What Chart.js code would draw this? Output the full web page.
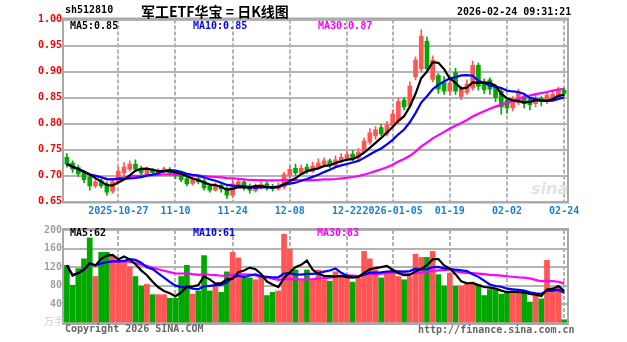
<!DOCTYPE html>
<html>
<head>
<meta charset="utf-8">
<script src="https://cdn.jsdelivr.net/npm/chart.js@4"></script>
<style>
    body { margin: 0; background: #fff; }
    #wrap { position: relative; width: 627px; height: 342px; overflow: hidden; }
    canvas { position: absolute; left: 0; }
    .t { position: absolute; white-space: nowrap; font-family: "DejaVu Sans Mono", monospace; font-weight: bold; font-size: 10px; line-height: 10px; }
</style>
</head>
<body>
<div id="wrap">
    <canvas id="priceChart" width="627" height="220" style="top:0"></canvas>
    <canvas id="volumeChart" width="627" height="120" style="top:222px"></canvas>

    <div class="t" style="left:65px;top:5px;color:#000">sh512810</div>
    <div class="t" style="left:141px;top:3px;font-size:14px;line-height:16px;font-family:'Noto Sans CJK SC';color:#000">军工ETF华宝 = 日K线图</div>
    <div class="t" style="left:457px;top:7px;color:#000">2026-02-24 09:31:21</div>

    <div class="t" style="left:70px;top:21px;color:#000">MA5:0.85</div>
    <div class="t" style="left:193px;top:21px;color:#0000ff">MA10:0.85</div>
    <div class="t" style="left:318px;top:21px;color:#ff00ff">MA30:0.87</div>

    <div class="t" style="left:70px;top:228px;color:#000">MA5:62</div>
    <div class="t" style="left:193px;top:228px;color:#0000ff">MA10:61</div>
    <div class="t" style="left:317px;top:228px;color:#ff00ff">MA30:83</div>

    <div class="t" style="left:44px;top:316px;color:#cfcfcf;font-family:'Noto Sans CJK SC';font-weight:normal">万手</div>
    <div class="t" style="left:531px;top:181px;color:#e2e2e2;font-family:'DejaVu Sans';font-style:italic;font-size:16px;line-height:16px">sina</div>

    <div class="t" style="left:65px;top:324px;color:#666">Copyright 2026 SINA.COM</div>
    <div class="t" style="left:418px;top:325px;color:#666">http://finance.sina.com.cn</div>
</div>

<script>
// 日K数据
const dates = [
    '2025-10-14','2025-10-15','2025-10-16','2025-10-17','2025-10-20','2025-10-21','2025-10-22','2025-10-23','2025-10-24',
    '2025-10-27','2025-10-28','2025-10-29','2025-10-30','2025-10-31',
    '2025-11-03','2025-11-04','2025-11-05','2025-11-06','2025-11-07',
    '2025-11-10','2025-11-11','2025-11-12','2025-11-13','2025-11-14',
    '2025-11-17','2025-11-18','2025-11-19','2025-11-20','2025-11-21',
    '2025-11-24','2025-11-25','2025-11-26','2025-11-27','2025-11-28',
    '2025-12-01','2025-12-02','2025-12-03','2025-12-04','2025-12-05',
    '2025-12-08','2025-12-09','2025-12-10','2025-12-11','2025-12-12',
    '2025-12-15','2025-12-16','2025-12-17','2025-12-18','2025-12-19',
    '2025-12-22','2025-12-23','2025-12-24','2025-12-25','2025-12-26',
    '2025-12-29','2025-12-30','2025-12-31',
    '2026-01-05','2026-01-06','2026-01-07','2026-01-08','2026-01-09',
    '2026-01-12','2026-01-13','2026-01-14','2026-01-15','2026-01-16',
    '2026-01-19','2026-01-20','2026-01-21','2026-01-22','2026-01-23',
    '2026-01-26','2026-01-27','2026-01-28','2026-01-29','2026-01-30',
    '2026-02-02','2026-02-03','2026-02-04','2026-02-05','2026-02-06',
    '2026-02-09','2026-02-10','2026-02-11','2026-02-12','2026-02-13',
    '2026-02-24'
];

const tickDates = ['2025-10-27','2025-11-10','2025-11-24','2025-12-08','2025-12-22','2026-01-05','2026-01-19','2026-02-02','2026-02-24'];
const tickTexts = ['2025-10-27','11-10','11-24','12-08','12-22','2026-01-05','01-19','02-02','02-24'];

const open = [
    .735,.724,.715,.706,.697,.680,.690,.684,.670,.688,
    .705,.712,.722,.713,.703,.711,.704,.707,.712,.705,
    .700,.694,.685,.694,.690,.679,.672,.681,.676,.662,
    .682,.688,.680,.671,.677,.684,.679,.674,.678,.700,
    .714,.705,.716,.708,.716,.722,.728,.720,.728,.733,
    .741,.734,.745,.764,.776,.792,.780,.796,.805,.845,
    .834,.890,.905,.958,.885,.892,.878,.862,.898,.852,
    .860,.868,.912,.880,.884,.870,.862,.845,.830,.840,
    .852,.846,.838,.848,.842,.848,.850,.864
];
const high = [
    .742,.728,.720,.710,.700,.694,.693,.688,.692,.716,
    .725,.728,.730,.718,.716,.714,.713,.716,.715,.708,
    .704,.698,.698,.698,.693,.684,.686,.684,.678,.692,
    .694,.690,.684,.684,.688,.688,.683,.686,.706,.718,
    .722,.720,.722,.726,.732,.734,.732,.738,.742,.746,
    .748,.752,.772,.790,.794,.798,.804,.826,.848,.850,
    .880,.928,.980,.966,.930,.896,.890,.886,.906,.872,
    .884,.920,.916,.886,.888,.874,.866,.848,.852,.866,
    .858,.850,.854,.852,.860,.862,.870,.868
];
const low = [
    .716,.706,.698,.686,.672,.676,.676,.662,.666,.686,
    .700,.708,.708,.700,.700,.700,.700,.703,.700,.694,
    .688,.680,.682,.684,.672,.668,.670,.668,.656,.658,
    .678,.672,.666,.668,.674,.672,.670,.672,.674,.696,
    .700,.702,.704,.706,.712,.716,.714,.716,.724,.728,
    .728,.730,.742,.760,.770,.776,.776,.792,.800,.826,
    .830,.884,.900,.898,.880,.858,.856,.854,.856,.846,
    .856,.864,.864,.858,.856,.842,.818,.820,.824,.836,
    .830,.826,.832,.834,.838,.844,.846,.852
];
const close = [
    .722,.712,.703,.692,.680,.688,.680,.668,.688,.708,
    .716,.722,.712,.705,.711,.705,.709,.713,.704,.699,
    .692,.684,.692,.688,.676,.672,.680,.674,.662,.684,
    .688,.678,.672,.678,.683,.678,.674,.680,.702,.712,
    .705,.714,.708,.718,.724,.728,.720,.730,.735,.740,
    .733,.745,.766,.782,.788,.780,.798,.818,.842,.832,
    .872,.922,.968,.905,.922,.866,.862,.878,.862,.868,
    .876,.912,.872,.865,.866,.850,.832,.830,.845,.858,
    .838,.836,.848,.842,.854,.856,.866,.858
];
// 成交量 (万手)
const volume = [
    124, 81,117,138,183,100,152,152,145,135,
    131,121,100, 79, 83, 61, 61, 61, 53, 53,
    100,124, 62, 69,145, 69, 79, 66,110,152,
    140, 97, 97, 93,100, 59, 66, 69,191,159,
    114, 93,114, 93,114, 93, 90,110,100,100,
     88, 97,154,138,114, 97,110,114,100, 93,
    100,148,141,141,154,104, 79,107, 79, 79,
     83, 83, 83, 59, 72, 72, 62, 66, 66, 66,
     69, 45, 59, 52,135, 76, 76,  7
];

const priceTicks = [0.65, 0.70, 0.75, 0.80, 0.85, 0.90, 0.95, 1.00];
const volumeTicks = [0, 40, 80, 120, 160, 200];

const RED = '#ff5555';
const GREEN = '#00a800';
const GRID = '#b4b4b4';
const MONO = { family: 'DejaVu Sans Mono', size: 10, weight: 'bold' };

function movingAverage(values, n) {
    return values.map((v, i) => {
        const slice = values.slice(Math.max(0, i - n + 1), i + 1);
        return slice.reduce((a, b) => a + b, 0) / slice.length;
    });
}

// 边框
const frame = {
    id: 'frame',
    afterDraw(chart) {
        const { ctx, chartArea: a } = chart;
        ctx.save();
        ctx.strokeStyle = '#a8a8a8';
        ctx.lineWidth = 2;
        ctx.strokeRect(a.left - 1, a.top - 1, a.right - a.left + 2, a.bottom - a.top + 2);
        ctx.restore();
    }
};

class KlineCharts {
    constructor() {
        this.colors = dates.map((d, i) => close[i] >= open[i] ? RED : GREEN);
        this.createPriceChart();
        this.createVolumeChart();
    }

    maLine(label, data, color) {
        return {
            type: 'line', label, data,
            borderColor: color, borderWidth: 2.2,
            pointRadius: 0, tension: 0, order: 0
        };
    }

    xScale(showTicks) {
        return {
            offset: true,
            grid: {
                offset: false,
                drawTicks: false,
                lineWidth: 2,
                color: ctx => tickDates.includes(dates[ctx.index]) ? GRID : 'transparent'
            },
            border: { display: false, dash: [4, 2] },
            ticks: {
                display: showTicks,
                autoSkip: false,
                maxRotation: 0,
                padding: 4,
                color: '#1a7fd0',
                font: MONO,
                callback: (v, i) => {
                    const k = tickDates.indexOf(dates[i]);
                    return k >= 0 ? tickTexts[k] : '';
                }
            },
            afterFit: s => { s.height = showTicks ? 18.5 : 19; }
        };
    }

    createPriceChart() {
        const ctx = document.getElementById('priceChart');
        this.priceChart = new Chart(ctx, {
            type: 'bar',
            data: {
                labels: dates,
                datasets: [
                    this.maLine('MA5', movingAverage(close, 5), '#000000'),
                    this.maLine('MA10', movingAverage(close, 10), '#0000ff'),
                    this.maLine('MA30', movingAverage(close, 30), '#ff00ff'),
                    {
                        label: 'body',
                        data: dates.map((d, i) => [open[i], close[i]]),
                        backgroundColor: this.colors,
                        barThickness: 4,
                        minBarLength: 1,
                        grouped: false,
                        order: 1
                    },
                    {
                        label: 'wick',
                        data: dates.map((d, i) => [low[i], high[i]]),
                        backgroundColor: this.colors,
                        barThickness: 1,
                        grouped: false,
                        order: 2
                    }
                ]
            },
            options: {
                responsive: false,
                animation: false,
                layout: { padding: { top: 19.5, right: 60, left: 0, bottom: 0 } },
                plugins: { legend: { display: false }, tooltip: { enabled: false } },
                scales: {
                    x: this.xScale(true),
                    y: {
                        min: priceTicks[0],
                        max: priceTicks[priceTicks.length - 1],
                        afterBuildTicks: s => { s.ticks = priceTicks.map(v => ({ value: v })); },
                        grid: { color: GRID, lineWidth: 2, drawTicks: false },
                        border: { display: false },
                        ticks: {
                            padding: 2,
                            color: '#ff0000',
                            font: MONO,
                            callback: v => v.toFixed(2)
                        },
                        afterFit: s => { s.width = 64; }
                    }
                }
            },
            plugins: [frame]
        });
    }

    createVolumeChart() {
        const ctx = document.getElementById('volumeChart');
        this.volumeChart = new Chart(ctx, {
            type: 'bar',
            data: {
                labels: dates,
                datasets: [
                    this.maLine('MA5', movingAverage(volume, 5), '#000000'),
                    this.maLine('MA10', movingAverage(volume, 10), '#0000ff'),
                    this.maLine('MA30', movingAverage(volume, 30), '#ff00ff'),
                    {
                        label: 'volume',
                        data: volume,
                        backgroundColor: this.colors,
                        barThickness: 5,
                        order: 1
                    }
                ]
            },
            options: {
                responsive: false,
                animation: false,
                layout: { padding: { top: 5.5, right: 60, left: 0, bottom: 0 } },
                plugins: { legend: { display: false }, tooltip: { enabled: false } },
                scales: {
                    x: this.xScale(false),
                    y: {
                        min: volumeTicks[0],
                        max: volumeTicks[volumeTicks.length - 1],
                        afterBuildTicks: s => { s.ticks = volumeTicks.map(v => ({ value: v })); },
                        grid: { color: GRID, lineWidth: 2, drawTicks: false },
                        border: { display: false },
                        ticks: {
                            padding: 2,
                            color: '#a0a0a0',
                            font: MONO,
                            callback: v => v === 0 ? '' : v
                        },
                        afterFit: s => { s.width = 64; }
                    }
                }
            },
            plugins: [frame]
        });
    }
}

document.addEventListener('DOMContentLoaded', () => {
    new KlineCharts();
});
</script>
</body>
</html>
